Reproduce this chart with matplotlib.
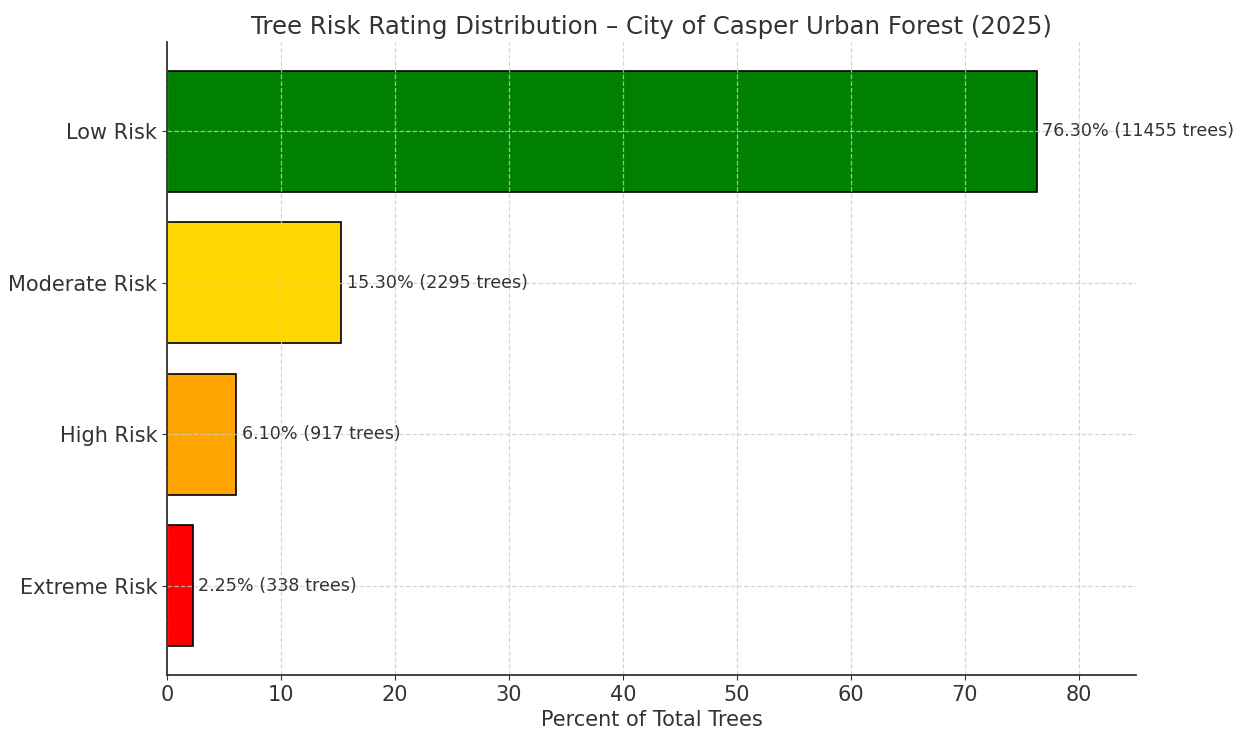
import matplotlib.pyplot as plt

# risk ratings and shares of the inventory
categories = ["Low Risk", "Moderate Risk", "High Risk", "Extreme Risk"]
percents = [76.30, 15.30, 6.10, 2.25]
tree_counts = [11455, 2295, 917, 338]
bar_colors = ["green", "gold", "orange", "red"]

plt.rcParams["text.color"] = "#333333"
plt.rcParams["axes.labelcolor"] = "#333333"
plt.rcParams["xtick.color"] = "#333333"
plt.rcParams["ytick.color"] = "#333333"

fig = plt.figure(figsize=(12.43, 7.3), dpi=100)
ax = fig.add_axes([0.1343, 0.0753, 0.7796, 0.8672])

ax.barh(categories, percents, color=bar_colors, edgecolor="black", linewidth=1.2, height=0.8)
ax.invert_yaxis()

# value labels just past the end of each bar
for i in range(len(categories)):
    ax.text(percents[i] + 0.5, i, f"{percents[i]:.2f}% ({tree_counts[i]} trees)",
            va="center", ha="left", fontsize=12.6)

ax.set_xlim(0, 85)
ax.set_xlabel("Percent of Total Trees", fontsize=15)
ax.set_title("Tree Risk Rating Distribution \u2013 City of Casper Urban Forest (2025)", fontsize=17.6)
ax.tick_params(axis="both", labelsize=15)
ax.set_axisbelow(False)
ax.grid(True, linestyle="--", color="#cccccc", linewidth=0.9, alpha=0.8)
for side in ["top", "right"]:
    ax.spines[side].set_visible(False)
for side in ["left", "bottom"]:
    ax.spines[side].set_color("#333333")
    ax.spines[side].set_linewidth(1.3)
    ax.spines[side].set_zorder(5)

fig.savefig("out.png", dpi=100)
